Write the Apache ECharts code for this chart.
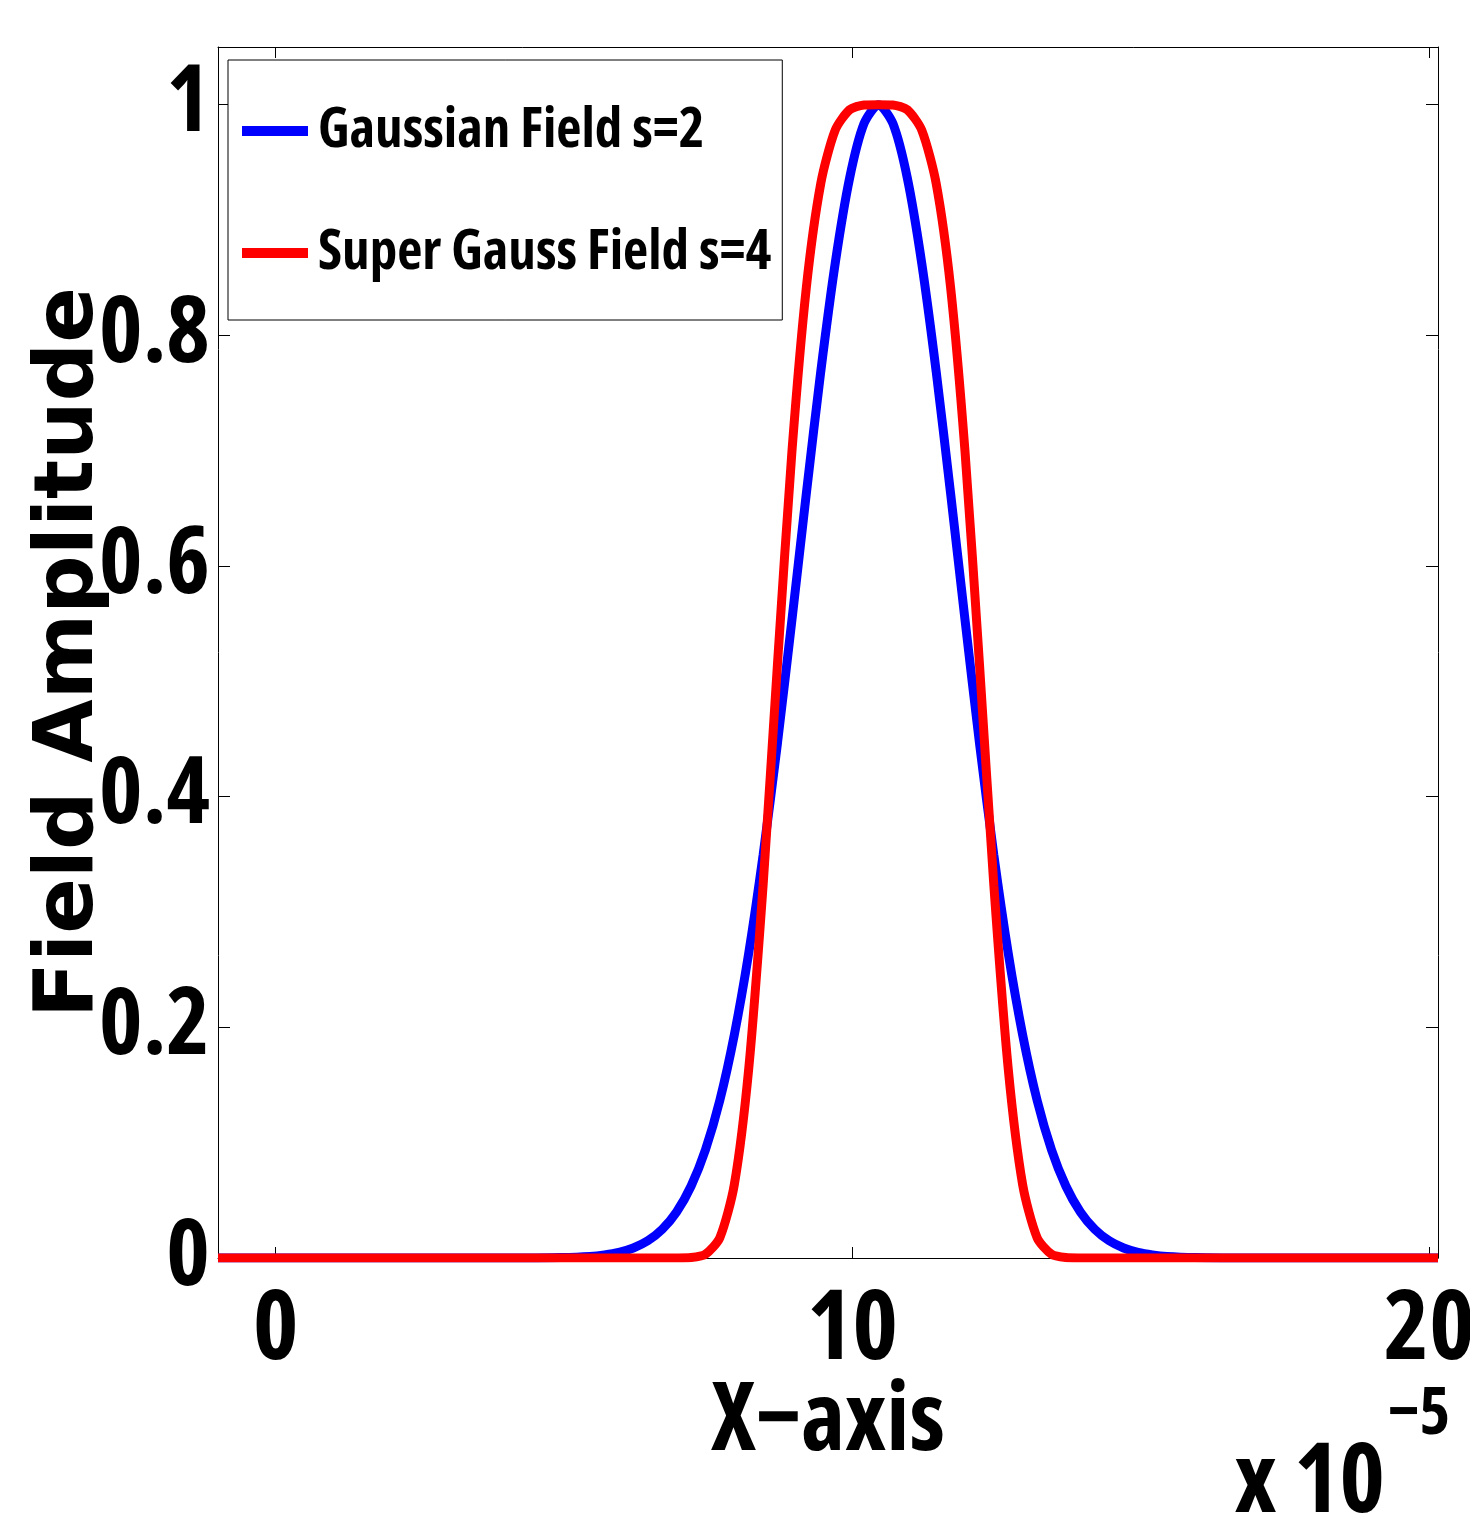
<!DOCTYPE html>
<html>
<head>
<meta charset="utf-8">
<script src="https://cdn.jsdelivr.net/npm/echarts@6/dist/echarts.min.js"></script>
<style>
html,body{margin:0;padding:0;background:#fff;}
#chart{width:1470px;height:1515px;}
</style>
</head>
<body>
<div id="chart"></div>
<script>
// x positions (units of 1e-5)
const xValues = [-1, 0, 2, 4, 4.45, 4.95, 5.45, 5.7, 5.95, 6.2, 6.45, 6.7, 6.95, 7.2, 7.45, 7.7, 7.95, 8.2, 8.45, 8.7, 8.95, 9.2, 9.45, 9.7, 9.95, 10.2, 10.45, 10.7, 10.95, 11.2, 11.45, 11.7, 11.95, 12.2, 12.45, 12.7, 12.95, 13.2, 13.45, 13.7, 13.95, 14.2, 14.45, 14.7, 14.95, 15.2, 15.45, 15.95, 16.45, 17, 18, 20.15];
// Gaussian Field s=2
const gaussValues = [0, 0, 0, 0.00002, 0.00008, 0.00035, 0.0014, 0.0027, 0.0049, 0.0087, 0.0149, 0.0248, 0.0399, 0.0622, 0.0938, 0.1368, 0.1933, 0.2641, 0.3493, 0.4469, 0.5534, 0.6631, 0.7688, 0.8625, 0.9364, 0.9837, 1, 0.9837, 0.9364, 0.8625, 0.7688, 0.6631, 0.5534, 0.4469, 0.3493, 0.2641, 0.1933, 0.1368, 0.0938, 0.0622, 0.0399, 0.0248, 0.0149, 0.0087, 0.0049, 0.0027, 0.0014, 0.00035, 0.00008, 0.00001, 0, 0];
// Super Gauss Field s=4
const superValues = [0, 0, 0, 0, 0, 0, 0, 0, 0, 0, 0, 0, 0.00003, 0.0004, 0.0033, 0.0176, 0.0634, 0.1638, 0.3232, 0.5157, 0.6995, 0.8417, 0.9318, 0.9779, 0.9956, 0.9997, 1, 0.9997, 0.9956, 0.9779, 0.9318, 0.8417, 0.6995, 0.5157, 0.3232, 0.1638, 0.0634, 0.0176, 0.0033, 0.0004, 0.00003, 0, 0, 0, 0, 0, 0, 0, 0, 0, 0, 0];
const seriesNames = ['Gaussian Field s=2', 'Super Gauss Field s=4'];
const xTicks = [0, 10, 20];
const yTicks = [0, 0.2, 0.4, 0.6, 0.8, 1];

const FAM = "'Open Sans', sans-serif";
const W = 'bold condensed';
const chart = echarts.init(document.getElementById('chart'), null, {renderer: 'canvas'});

const pairs = arr => xValues.map((x, i) => [x, arr[i]]);
const yLabelFmt = v => (v === 0 || v === 1) ? String(v) : v.toFixed(1);

chart.setOption({
  animation: false,
  backgroundColor: '#fff',
  grid: {left: 218, right: 32, top: 47, bottom: 257, containLabel: false, outerBoundsMode: 'none'},
  legend: {
    left: 228, top: 60, orient: 'vertical',
    padding: [36, 11, 32, 14], itemGap: 52,
    itemWidth: 66, itemHeight: 10, icon: 'rect',
    borderColor: '#000', borderWidth: 1, backgroundColor: '#fff',
    textStyle: {fontFamily: FAM, fontWeight: W, fontSize: 55, lineHeight: 70, color: '#000', padding: [0, 0, 0, 5]},
    data: seriesNames
  },
  xAxis: [{
    type: 'value', min: -1, max: 20.15, position: 'bottom',
    name: 'X\u2212axis', nameLocation: 'middle', nameGap: 117, nameMoveOverlap: false,
    nameTextStyle: {fontFamily: FAM, fontWeight: W, fontSize: 95, color: '#000'},
    axisLine: {show: true, onZero: false, lineStyle: {color: '#000', width: 1}},
    axisTick: {show: true, inside: true, length: 11, customValues: xTicks, lineStyle: {color: '#000'}},
    axisLabel: {show: true, margin: 25, customValues: xTicks, fontFamily: FAM, fontWeight: W, fontSize: 97, color: '#000'},
    splitLine: {show: false}
  }, {
    type: 'value', min: -1, max: 20.15, position: 'top',
    axisLine: {show: true, onZero: false, lineStyle: {color: '#000', width: 1}},
    axisTick: {show: true, inside: true, length: 11, customValues: xTicks, lineStyle: {color: '#000'}},
    axisLabel: {show: false},
    splitLine: {show: false}
  }],
  yAxis: [{
    type: 'value', min: 0, max: 1.05, position: 'left',
    name: 'Field Amplitude', nameLocation: 'middle', nameGap: 106, nameMoveOverlap: false,
    nameTextStyle: {fontFamily: "'DejaVu Sans', sans-serif", fontWeight: 'bold', fontSize: 82, color: '#000'},
    axisLine: {show: true, onZero: false, lineStyle: {color: '#000', width: 1}},
    axisTick: {show: true, inside: true, length: 12, customValues: yTicks, lineStyle: {color: '#000'}},
    axisLabel: {show: true, margin: 8, customValues: yTicks, formatter: yLabelFmt, fontFamily: FAM, fontWeight: W, fontSize: 93, color: '#000'},
    splitLine: {show: false}
  }, {
    type: 'value', min: 0, max: 1.05, position: 'right',
    axisLine: {show: true, onZero: false, lineStyle: {color: '#000', width: 1}},
    axisTick: {show: true, inside: true, length: 12, customValues: yTicks, lineStyle: {color: '#000'}},
    axisLabel: {show: false},
    splitLine: {show: false}
  }],
  series: [{
    name: seriesNames[0], type: 'line', data: pairs(gaussValues),
    showSymbol: false, smooth: 0.25, color: '#0000ff',
    lineStyle: {color: '#0000ff', width: 9}, z: 2
  }, {
    name: seriesNames[1], type: 'line', data: pairs(superValues),
    showSymbol: false, smooth: 0.25, color: '#ff0000',
    lineStyle: {color: '#ff0000', width: 9}, z: 3
  }],
  graphic: [{
    type: 'text', right: 85, top: 1436,
    style: {text: 'x 10', font: "bold condensed 97px 'Open Sans'", fill: '#000'}
  }, {
    type: 'text', left: 1388, top: 1382,
    style: {text: '\u22125', font: "bold condensed 66px 'Open Sans'", fill: '#000'}
  }]
});
</script>
</body>
</html>
